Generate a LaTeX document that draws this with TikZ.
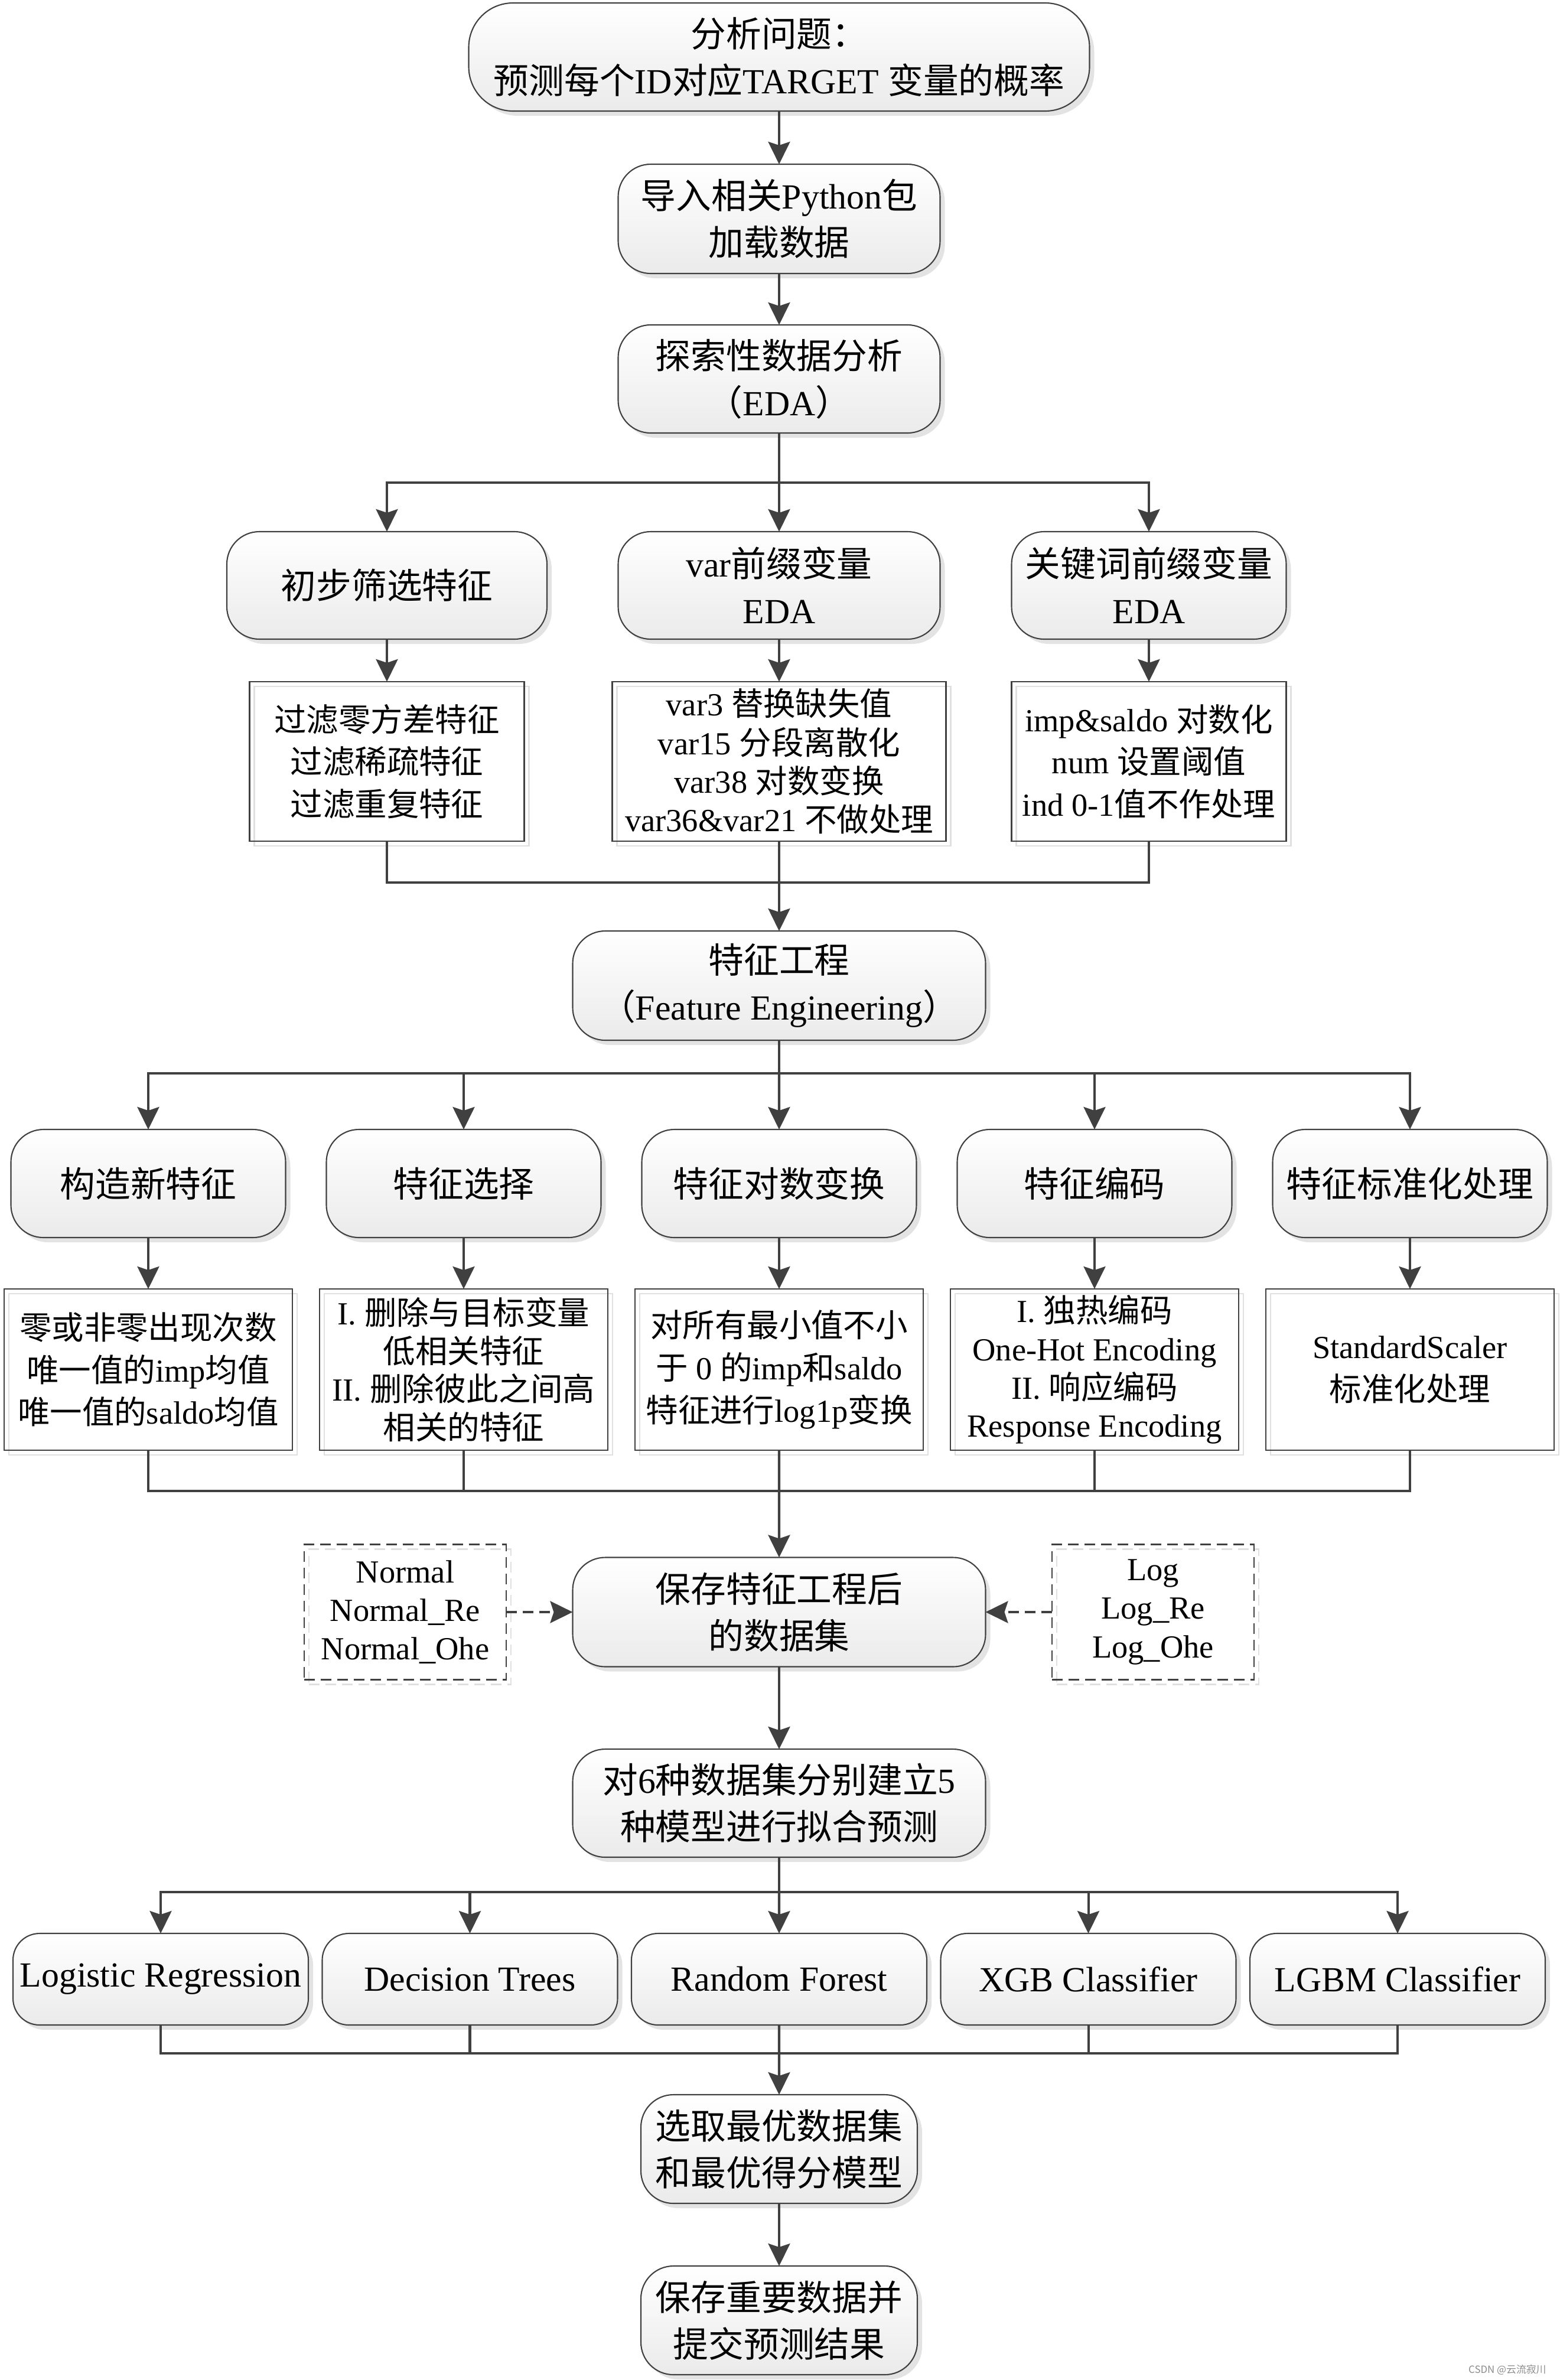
\documentclass[tikz,border=0pt]{standalone}
\usepackage{fontspec}
\setmainfont{Liberation Serif}
\newfontfamily\cjkfont{Noto Sans CJK SC}
\newcommand{\zh}[1]{{\cjkfont #1}}
\usetikzlibrary{positioning,shadows,arrows.meta}
\definecolor{linegray}{RGB}{64,64,64}

\begin{document}
\begin{tikzpicture}[node distance=0.9cm,
					round node/.style = {draw=linegray, line width=0.6pt, rounded corners=0.55cm, top color=white, bottom color=black!8, inner sep=0pt, outer sep=0pt, align=center, font=\fontsize{17}{22.5}\selectfont, drop shadow={shadow xshift=0.08cm, shadow yshift=-0.08cm, fill=black!11, opacity=1}},
					plain box/.style = {draw=linegray, line width=0.6pt, inner sep=0pt, outer sep=0pt, align=center, font=\fontsize{15.5}{20.4}\selectfont, drop shadow={shadow xshift=0.08cm, shadow yshift=-0.08cm, fill=none, draw=black!12, opacity=1}},
					dash box/.style = {plain box, dash pattern=on 0.18cm off 0.1cm, font=\fontsize{15.5}{18.6}\selectfont},
					line/.style = {draw=linegray, line width=1.15pt},
					arrow/.style = {line, -{Stealth[length=0.38cm, width=0.37cm, inset=0.06cm]}},
					dash arrow/.style = {arrow, dash pattern=on 0.18cm off 0.1cm}]
					
					\useasboundingbox (0,0) rectangle (26.4,-40.29);
					
					\node[round node, rounded corners=0.75cm, minimum width=10.51cm, minimum height=1.83cm] (1) at (13.19,-0.965) {\zh{分析问题：}\\\zh{预测每个}ID\zh{对应}TARGET \zh{变量的概率}};
					\node[round node, minimum width=5.45cm, minimum height=1.85cm, below = 0.9cm of 1] (2) {\zh{导入相关}Python\zh{包}\\\zh{加载数据}};
					\node[round node, minimum width=5.45cm, minimum height=1.83cm, below = 0.87cm of 2] (3) {\zh{探索性数据分析}\\\zh{（}EDA\zh{）}};
					
					\node[round node, minimum width=5.42cm, minimum height=1.82cm] (4) at (6.55,-9.91) {\zh{初步筛选特征}};
					\node[round node, minimum width=5.45cm, minimum height=1.82cm] (5) at (13.19,-9.91) {var\zh{前缀变量}\\EDA};
					\node[round node, minimum width=4.65cm, minimum height=1.82cm] (6) at (19.45,-9.91) {\zh{关键词前缀变量}\\EDA};
					
					\node[plain box, minimum width=4.65cm, minimum height=2.7cm, below = 0.72cm of 4] (7) {\zh{过滤零方差特征}\\\zh{过滤稀疏特征}\\\zh{过滤重复特征}};
					\node[plain box, minimum width=5.65cm, minimum height=2.7cm, below = 0.72cm of 5, font=\fontsize{15.5}{18.6}\selectfont] (8) {var3 \zh{替换缺失值}\\var15 \zh{分段离散化}\\var38 \zh{对数变换}\\var36\&var21 \zh{不做处理}};
					\node[plain box, minimum width=4.65cm, minimum height=2.7cm, below = 0.72cm of 6] (9) {imp\&saldo \zh{对数化}\\num \zh{设置阈值}\\ind 0-1\zh{值不作处理}};
					
					\node[round node, minimum width=6.99cm, minimum height=1.85cm] (10) at (13.19,-16.685) {\zh{特征工程}\\\zh{（}Feature Engineering\zh{）}};
					
					\node[round node, minimum width=4.65cm, minimum height=1.83cm] (11) at (2.51,-20.035) {\zh{构造新特征}};
					\node[round node, minimum width=4.65cm, minimum height=1.83cm, right = 0.69cm of 11] (12) {\zh{特征选择}};
					\node[round node, minimum width=4.65cm, minimum height=1.83cm, right = 0.69cm of 12] (13) {\zh{特征对数变换}};
					\node[round node, minimum width=4.65cm, minimum height=1.83cm, right = 0.69cm of 13] (14) {\zh{特征编码}};
					\node[round node, minimum width=4.65cm, minimum height=1.83cm, right = 0.69cm of 14] (15) {\zh{特征标准化处理}};
					
					\node[plain box, minimum width=4.88cm, minimum height=2.73cm, below = 0.87cm of 11] (16) {\zh{零或非零出现次数}\\\zh{唯一值的}imp\zh{均值}\\\zh{唯一值的}saldo\zh{均值}};
					\node[plain box, minimum width=4.88cm, minimum height=2.73cm, below = 0.87cm of 12, font=\fontsize{15.5}{18.4}\selectfont] (17) {I. \zh{删除与目标变量}\\\zh{低相关特征}\\II. \zh{删除彼此之间高}\\\zh{相关的特征}};
					\node[plain box, minimum width=4.88cm, minimum height=2.73cm, below = 0.87cm of 13] (18) {\zh{对所有最小值不小}\\\zh{于} 0 \zh{的}imp\zh{和}saldo\\\zh{特征进行}log1p\zh{变换}};
					\node[plain box, minimum width=4.88cm, minimum height=2.73cm, below = 0.87cm of 14, font=\fontsize{15.5}{18.4}\selectfont] (19) {I. \zh{独热编码}\\One-Hot Encoding\\II. \zh{响应编码}\\Response Encoding};
					\node[plain box, minimum width=4.88cm, minimum height=2.73cm, below = 0.87cm of 15] (20) {StandardScaler\\\zh{标准化处理}};
					
					\node[round node, minimum width=6.99cm, minimum height=1.85cm] (21) at (13.19,-27.29) {\zh{保存特征工程后}\\\zh{的数据集}};
					\node[dash box, minimum width=3.42cm, minimum height=2.29cm] (22) at (6.86,-27.29) {Normal\\Normal\_Re\\Normal\_Ohe};
					\node[dash box, minimum width=3.42cm, minimum height=2.29cm] (23) at (19.52,-27.29) {Log\\Log\_Re\\Log\_Ohe};
					
					\node[round node, minimum width=6.99cm, minimum height=1.83cm] (24) at (13.19,-30.525) {\zh{对}6\zh{种数据集分别建立}5\\\zh{种模型进行拟合预测}};
					
					\node[round node, rounded corners=0.45cm, minimum width=5cm, minimum height=1.55cm] (25) at (2.72,-33.505) {Logistic Regression};
					\node[round node, rounded corners=0.45cm, minimum width=5cm, minimum height=1.55cm, right = 0.235cm of 25] (26) {Decision Trees};
					\node[round node, rounded corners=0.45cm, minimum width=5cm, minimum height=1.55cm, right = 0.235cm of 26] (27) {Random Forest};
					\node[round node, rounded corners=0.45cm, minimum width=5cm, minimum height=1.55cm, right = 0.235cm of 27] (28) {XGB Classifier};
					\node[round node, rounded corners=0.45cm, minimum width=5cm, minimum height=1.55cm, right = 0.235cm of 28] (29) {LGBM Classifier};
					
					\node[round node, minimum width=4.68cm, minimum height=1.84cm] (30) at (13.19,-36.38) {\zh{选取最优数据集}\\\zh{和最优得分模型}};
					\node[round node, minimum width=4.68cm, minimum height=1.84cm, below = 1.06cm of 30] (31) {\zh{保存重要数据并}\\\zh{提交预测结果}};
					
					\node[text=black!45, font=\cjkfont\fontsize{4.8}{5}\selectfont, anchor=east] (32) at (26.3,-40.12) {CSDN @\zh{云流寂川}};
					
					\coordinate (b1) at (13.19,-8.17);
					\coordinate (m1) at (13.19,-14.94);
					\coordinate (b2) at (13.19,-18.17);
					\coordinate (m2) at (13.19,-25.24);
					\coordinate (b3) at (13.19,-32.03);
					\coordinate (m3) at (13.19,-34.76);
					
					\draw[arrow] (1) -- (2);
					\draw[arrow] (2) -- (3);
					\draw[line] (3) -- (b1);
					\draw[arrow] (b1) -| (4);
					\draw[arrow] (b1) -- (5);
					\draw[arrow] (b1) -| (6);
					\foreach \a/\b in {4/7,5/8,6/9}
						\draw[arrow] (\a) -- (\b);
					\draw[line] (7) |- (m1) -| (9);
					\draw[arrow] (8) -- (10);
					
					\draw[line] (10) -- (b2);
					\foreach \n in {11,12,14,15}
						\draw[arrow] (b2) -| (\n);
					\draw[arrow] (b2) -- (13);
					\foreach \a/\b in {11/16,12/17,13/18,14/19,15/20}
						\draw[arrow] (\a) -- (\b);
					\draw[line] (16) |- (m2) -| (20);
					\draw[line] (17) |- (m2);
					\draw[line] (19) |- (m2);
					\draw[arrow] (18) -- (21);
					\draw[dash arrow] (22) -- (21);
					\draw[dash arrow] (23) -- (21);
					
					\draw[arrow] (21) -- (24);
					\draw[line] (24) -- (b3);
					\foreach \n in {25,26,28,29}
						\draw[arrow] (b3) -| (\n);
					\draw[arrow] (b3) -- (27);
					\draw[line] (25) |- (m3) -| (29);
					\draw[line] (26) |- (m3);
					\draw[line] (28) |- (m3);
					\draw[arrow] (27) -- (30);
					\draw[arrow] (30) -- (31);
					
					\end{tikzpicture}
\end{document}
